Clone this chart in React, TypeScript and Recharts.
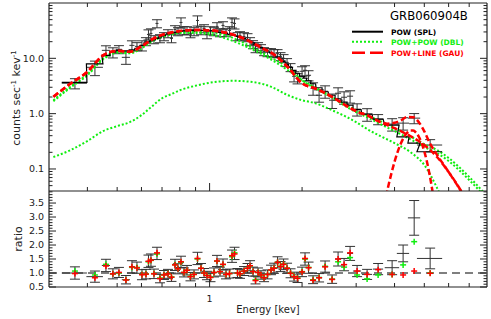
import React from 'react';
import { ComposedChart, Line, Scatter, ErrorBar, XAxis, YAxis, ReferenceLine } from 'recharts';

// spectral bins (keV) and their half widths
const binEnergy = [0.3644, 0.4233, 0.4598, 0.4844, 0.5068, 0.5341, 0.5587, 0.5801, 0.6023, 0.6206,
  0.6324, 0.6443, 0.659, 0.6741, 0.6893, 0.7104, 0.732, 0.7515, 0.7715, 0.7891,
  0.8069, 0.8253, 0.8441, 0.8665, 0.8897, 0.9133, 0.9376, 0.959, 0.9806, 1.0067,
  1.0335, 1.057, 1.0811, 1.1056, 1.1309, 1.161, 1.183, 1.2053, 1.2327, 1.256,
  1.2944, 1.3288, 1.354, 1.3848, 1.411, 1.4379, 1.4705, 1.504, 1.544, 1.5849,
  1.6211, 1.6642, 1.7019, 1.7407, 1.787, 1.8345, 1.8833, 1.9334, 1.9999, 2.0451,
  2.0997, 2.172, 2.272, 2.3768, 2.5048, 2.6199, 2.7404, 2.8664, 3.0208, 3.2563,
  3.5367, 3.9281, 4.2658, 4.6345, 5.224];
const binHalfWidth = [0.0343, 0.0262, 0.014, 0.011, 0.0115, 0.0163, 0.0106, 0.0088, 0.0091, 0.0094,
  0.0071, 0.0073, 0.0074, 0.0076, 0.0078, 0.008, 0.0083, 0.0085, 0.0087, 0.0089,
  0.0091, 0.0093, 0.0095, 0.0098, 0.0101, 0.0103, 0.0106, 0.0108, 0.0111, 0.0114,
  0.0117, 0.0119, 0.0122, 0.0125, 0.0128, 0.0131, 0.0134, 0.0136, 0.0139, 0.0142,
  0.0146, 0.015, 0.0153, 0.0156, 0.0159, 0.0162, 0.0166, 0.017, 0.0174, 0.0179,
  0.0183, 0.0188, 0.0192, 0.0197, 0.0202, 0.0277, 0.0284, 0.0292, 0.0378, 0.0309,
  0.0397, 0.0411, 0.0516, 0.054, 0.0569, 0.0595, 0.0622, 0.0651, 0.0921, 0.1244,
  0.1351, 0.2117, 0.1962, 0.2132, 0.4921];

// counts sec^-1 keV^-1
const counts = [3.544, 6.883, 13.94, 12.83, 14.53, 10.42, 17.15, 16.45, 17.15, 20.25,
  27.06, 28.21, 21.99, 42.72, 22.93, 24.91, 28.21, 22.93, 33.31, 30.66,
  44.53, 31.96, 31.96, 28.21, 30.66, 48.39, 31.96, 34.72, 27.06, 31.96,
  30.66, 37.73, 29.41, 39.32, 29.41, 31.96, 44.53, 42.72, 24.91, 25.97,
  24.91, 23.9, 20.25, 17.87, 15.14, 16.45, 15.14, 13.37, 12.83, 12.83,
  12.31, 12.31, 10.86, 10.0, 8.47, 6.88, 4.74, 4.36, 5.83, 6.08,
  4.94, 2.88, 2.15, 2.54, 1.75, 2.34, 1.98, 2.07, 1.205, 0.979,
  0.796, 0.647, 0.674, 0.83, 0.271];
const countsErr = [0.74, 2.02, 2.9, 2.67, 2.41, 2.63, 3.57, 2.73, 3.57, 3.36,
  5.63, 5.87, 3.65, 7.09, 3.81, 4.14, 4.68, 3.81, 5.53, 5.09,
  9.26, 5.31, 5.31, 4.68, 5.09, 10.07, 5.31, 5.76, 4.49, 5.31,
  5.09, 6.26, 4.88, 6.53, 4.88, 5.31, 9.26, 8.89, 4.14, 4.31,
  4.14, 3.97, 3.36, 2.97, 2.51, 2.73, 2.51, 2.22, 2.13, 2.13,
  2.04, 2.04, 1.8, 1.66, 1.41, 1.14, 0.99, 0.91, 1.21, 1.26,
  1.03, 0.73, 0.54, 0.64, 0.51, 0.59, 0.5, 0.52, 0.3, 0.25,
  0.166, 0.163, 0.17, 0.173, 0.068];

// POW (SPL) folded model per bin
const splModel = [3.69, 7.96, 11.33, 13.1, 13.94, 13.65, 14.23, 15.14, 17.15, 19.02,
  19.83, 20.67, 21.54, 22.93, 24.4, 25.97, 27.63, 28.8, 29.41, 30.03,
  30.66, 31.3, 31.3, 31.96, 31.96, 31.96, 31.96, 31.96, 31.3, 31.3,
  30.66, 30.03, 29.41, 28.8, 28.21, 27.06, 26.5, 25.97, 24.91, 23.89,
  22.93, 21.54, 20.25, 19.02, 17.87, 16.8, 15.79, 14.84, 13.65, 12.57,
  11.56, 10.64, 9.79, 8.83, 7.8, 6.88, 6.08, 5.37, 4.74, 4.36,
  3.93, 3.47, 2.94, 2.49, 2.15, 1.86, 1.61, 1.423, 1.18, 0.979,
  0.796, 0.62, 0.382, 0.294, 0.205];

// data / model ratios
const ratioSpl = [1.0, 0.87, 1.27, 0.97, 1.02, 0.76, 1.22, 1.19, 0.94, 0.96,
  1.42, 1.46, 0.97, 1.7, 0.8, 0.93, 0.97, 0.85, 1.29, 1.15,
  1.4, 1.02, 1.1, 0.87, 0.95, 1.52, 1.17, 1.0, 0.91, 0.84,
  1.02, 1.43, 1.05, 1.31, 0.95, 0.98, 1.6, 1.7, 1.0, 0.97,
  1.07, 1.17, 1.26, 1.05, 0.75, 1.02, 0.93, 0.83, 0.95, 1.11,
  1.17, 1.38, 1.23, 1.31, 1.17, 0.99, 0.87, 0.81, 1.04, 1.5,
  1.19, 0.76, 0.83, 1.23, 0.78, 1.5, 1.3, 1.7, 1.07, 0.95,
  1.14, 1.19, 1.7, 2.97, 1.52];
const ratioSplErr = [0.22, 0.2, 0.22, 0.18, 0.18, 0.15, 0.22, 0.2, 0.18, 0.17,
  0.22, 0.22, 0.17, 0.22, 0.15, 0.16, 0.16, 0.15, 0.2, 0.18,
  0.2, 0.16, 0.17, 0.15, 0.16, 0.22, 0.17, 0.16, 0.15, 0.15,
  0.16, 0.2, 0.16, 0.19, 0.16, 0.16, 0.22, 0.22, 0.16, 0.16,
  0.16, 0.17, 0.18, 0.16, 0.14, 0.16, 0.15, 0.14, 0.16, 0.17,
  0.18, 0.2, 0.18, 0.19, 0.18, 0.16, 0.16, 0.15, 0.17, 0.22,
  0.2, 0.14, 0.15, 0.2, 0.15, 0.25, 0.22, 0.25, 0.2, 0.18,
  0.2, 0.25, 0.3, 0.62, 0.37];
const ratioDbl = [1.07, 0.93, 1.31, 0.97, 1.0, 0.76, 1.2, 1.2, 0.95, 0.97,
  1.4, 1.45, 0.98, 1.68, 0.82, 0.94, 0.98, 0.86, 1.3, 1.15,
  1.38, 1.02, 1.1, 0.88, 0.95, 1.5, 1.17, 1.0, 0.92, 0.85,
  1.02, 1.42, 1.05, 1.3, 0.95, 0.98, 1.58, 1.72, 1.0, 0.97,
  1.07, 1.17, 1.25, 1.05, 0.76, 1.02, 0.93, 0.84, 0.95, 1.11,
  1.18, 1.38, 1.24, 1.32, 1.18, 1.0, 0.88, 0.82, 1.05, 1.5,
  1.2, 0.76, 0.84, 1.24, 0.78, 1.4, 1.21, 1.55, 0.93, 0.79,
  0.93, 0.95, 1.29, 2.12, 1.0];
const ratioGau = [0.98, 0.83, 1.25, 0.97, 1.02, 0.75, 1.22, 1.18, 0.94, 0.96,
  1.42, 1.46, 0.97, 1.72, 0.8, 0.93, 0.97, 0.85, 1.29, 1.15,
  1.4, 1.02, 1.1, 0.87, 0.95, 1.52, 1.17, 1.0, 0.91, 0.84,
  1.02, 1.43, 1.05, 1.31, 0.95, 0.98, 1.62, 1.68, 1.0, 0.97,
  1.07, 1.17, 1.26, 1.05, 0.73, 1.02, 0.93, 0.83, 0.95, 1.11,
  1.17, 1.38, 1.23, 1.31, 1.17, 0.99, 0.87, 0.81, 1.04, 1.52,
  1.19, 0.74, 0.83, 1.22, 0.77, 1.5, 1.3, 1.72, 1.07, 0.95,
  1.12, 0.95, 0.93, 1.07, 0.99];

// smooth model curves on an energy grid
const gridEnergy = [0.31, 0.35, 0.4, 0.45, 0.5, 0.55, 0.6, 0.65, 0.7, 0.75,
  0.8, 0.9, 1.0, 1.1, 1.2, 1.3, 1.4, 1.5, 1.6, 1.8,
  2.0, 2.2, 2.5, 2.8, 3.0, 3.3, 3.6, 4.0, 4.5, 5.0,
  5.5, 6.0, 7.0, 8.0];
const dblTotal = [1.75, 3.0, 5.15, 10.0, 13.1, 12.83, 15.79, 21.1, 25.43, 28.21,
  30.03, 30.66, 29.41, 27.06, 22.93, 18.63, 15.14, 12.31, 10.0, 6.88,
  4.01, 2.88, 1.98, 1.423, 1.157, 0.902, 0.733, 0.548, 0.393, 0.282,
  0.22, 0.158, 0.0718, 0.0326];
const dblSoft = [1.68, 2.88, 4.94, 9.59, 12.57, 12.31, 15.14, 20.25, 24.4, 27.06,
  28.8, 28.8, 27.06, 23.9, 20.25, 16.8, 13.94, 11.33, 9.2, 6.08,
  4.01, 3.0, 1.98, 1.31, 1.064, 0.83, 0.647, 0.484, 0.347, 0.249,
  0.194, 0.139, 0.0633, 0.0288];
const dblHard = [0.1645, 0.2154, 0.32, 0.484, 0.595, 0.703, 0.9395, 1.365, 1.9, 2.25,
  2.65, 3.195, 3.62, 3.85, 3.93, 3.85, 3.69, 3.4, 3.0, 2.15,
  1.75, 1.55, 1.157, 0.865, 0.703, 0.504, 0.393, 0.294, 0.2025, 0.118,
  0.0455, 0.0148, 0.003, 0.001];
const gauContinuum = [2.02, 3.4, 5.71, 11.33, 13.65, 13.1, 16.45, 21.99, 26.5, 29.41,
  31.3, 32.62, 31.96, 30.03, 26.5, 22.46, 18.25, 14.84, 12.31, 6.88,
  3.54, 2.88, 2.02, 1.365, 1.109, 0.902, 0.703, 0.548, 0.393, 0.271,
  0.1645, 0.0883, 0.0225, 0.0053];
const gauTotalEnergy = [0.31, 0.35, 0.4, 0.45, 0.5, 0.55, 0.6, 0.65, 0.7, 0.75,
  0.8, 0.9, 1.0, 1.1, 1.2, 1.3, 1.4, 1.5, 1.6, 1.8,
  2.0, 2.2, 2.5, 2.8, 3.0, 3.3, 3.6, 3.8, 4.0, 4.2,
  4.4, 4.6, 4.8, 5.0, 5.2, 5.5, 6.0, 7.0, 8.0];
const gauTotal = [2.02, 3.4, 5.71, 11.33, 13.65, 13.1, 16.45, 21.99, 26.5, 29.41,
  31.3, 32.62, 31.96, 30.03, 26.5, 22.46, 18.25, 14.84, 12.31, 6.88,
  3.54, 2.88, 2.02, 1.365, 1.109, 0.902, 0.703, 0.66, 0.683, 0.759,
  0.874, 0.865, 0.7, 0.479, 0.3, 0.18, 0.0883, 0.0225, 0.0053];
const lineEnergy = [3.7, 3.8, 3.9, 4.0, 4.1, 4.2, 4.3, 4.4, 4.5, 4.6, 4.7, 4.8, 4.9, 5.0, 5.1, 5.2, 5.3, 5.4];
const lineFlux = [0.022, 0.044, 0.08, 0.135, 0.208, 0.294, 0.382, 0.454, 0.495, 0.495, 0.454, 0.382, 0.294, 0.208, 0.135, 0.08, 0.044, 0.022];

// axis ticks
const energyTicks = [0.4, 0.5, 0.6, 0.7, 0.8, 0.9, 1, 2, 3, 4, 5, 6, 7];
const energyMajor = [1];
const countTicks = [0.05, 0.06, 0.07, 0.08, 0.09, 0.1, 0.2, 0.3, 0.4, 0.5, 0.6, 0.7, 0.8, 0.9,
  1, 2, 3, 4, 5, 6, 7, 8, 9, 10, 20, 30, 40, 50, 60, 70, 80, 90];
const countMajor = [0.1, 1, 10];
const ratioTicks = [0.5, 0.6, 0.7, 0.8, 0.9, 1.0, 1.1, 1.2, 1.3, 1.4, 1.5, 1.6, 1.7, 1.8, 1.9,
  2.0, 2.1, 2.2, 2.3, 2.4, 2.5, 2.6, 2.7, 2.8, 2.9, 3.0, 3.1, 3.2, 3.3, 3.4, 3.5, 3.6, 3.7, 3.8, 3.9];
const ratioMajor = [0.5, 1.0, 1.5, 2.0, 2.5, 3.0, 3.5];

const GREEN = '#11ee11';
const RED = '#ff0000';
const INK = '#222';
const FONT = 'DejaVu Sans';

const bins = binEnergy.map((e, i) => ({
  e,
  eErr: binHalfWidth[i],
  f: counts[i],
  fErr: countsErr[i],
  r: ratioSpl[i],
  rErr: ratioSplErr[i],
  rd: ratioDbl[i],
  rg: ratioGau[i],
}));
const splSteps = bins.flatMap((b, i) => [
  { e: b.e - b.eErr, v: splModel[i] },
  { e: b.e + b.eErr, v: splModel[i] },
]);
const onGrid = (vals: number[], energies = gridEnergy) => energies.map((e, i) => ({ e, v: vals[i] }));

const isMajor = (list: number[], v: number) => list.some((m) => Math.abs(m - v) < 1e-6);

function xTick(dir: 1 | -1, withLabel: boolean) {
  return (props: any) => {
    const { x, y, payload } = props;
    const major = isMajor(energyMajor, payload.value);
    return (
      <g>
        <line x1={x} y1={y} x2={x} y2={y + dir * (major ? 8 : 4)} stroke={INK} strokeWidth={1} />
        {withLabel && major ? (
          <text x={x} y={y + 15} textAnchor="middle" fontSize={9.5} fontFamily={FONT} fill={INK}>
            {String(payload.value)}
          </text>
        ) : null}
      </g>
    );
  };
}

function yTick(side: 'left' | 'right', majors: number[], withLabel: boolean) {
  return (props: any) => {
    const { x, y, payload } = props;
    const major = isMajor(majors, payload.value);
    const dir = side === 'left' ? 1 : -1;
    return (
      <g>
        <line x1={x} y1={y} x2={x + dir * (major ? 7 : 3.5)} y2={y} stroke={INK} strokeWidth={1} />
        {withLabel && major ? (
          <text x={x - 5} y={y} dy="0.35em" textAnchor="end" fontSize={9.5} fontFamily={FONT} fill={INK}>
            {Number(payload.value).toFixed(1)}
          </text>
        ) : null}
      </g>
    );
  };
}

const noMark = () => <g />;
const plus = (color: string) => (props: any) => {
  const { cx, cy } = props;
  if (cx == null || cy == null) return <g />;
  return (
    <g>
      <line x1={cx - 3} y1={cy} x2={cx + 3} y2={cy} stroke={color} strokeWidth={1.5} />
      <line x1={cx} y1={cy - 3} x2={cx} y2={cy + 3} stroke={color} strokeWidth={1.5} />
    </g>
  );
};

const axisLine = { stroke: INK, strokeWidth: 1.2 };

function SpectrumPanel() {
  return (
    <ComposedChart width={491} height={193} margin={{ top: 0, right: 0, bottom: 0, left: 0 }}>
      <XAxis xAxisId="b" dataKey="e" type="number" scale="log" domain={[0.3, 8]} allowDataOverflow
        ticks={energyTicks} interval={0} height={2} tickSize={0} tickMargin={0}
        axisLine={axisLine} tickLine={false} tick={xTick(-1, false)} />
      <XAxis xAxisId="t" orientation="top" dataKey="e" type="number" scale="log" domain={[0.3, 8]} allowDataOverflow
        ticks={energyTicks} interval={0} height={3} tickSize={0} tickMargin={0}
        axisLine={axisLine} tickLine={false} tick={xTick(1, false)} />
      <YAxis yAxisId="l" type="number" scale="log" domain={[0.04, 100]} allowDataOverflow
        ticks={countTicks} interval={0} width={49} tickSize={0} tickMargin={0}
        axisLine={axisLine} tickLine={false} tick={yTick('left', countMajor, true)} />
      <YAxis yAxisId="r" orientation="right" type="number" scale="log" domain={[0.04, 100]} allowDataOverflow
        ticks={countTicks} interval={0} width={4} tickSize={0} tickMargin={0}
        axisLine={axisLine} tickLine={false} tick={yTick('right', countMajor, false)} />

      <Scatter xAxisId="b" yAxisId="l" data={bins} dataKey="f" shape={noMark} isAnimationActive={false}>
        <ErrorBar dataKey="fErr" direction="y" width={5} stroke="#333" strokeWidth={1} isAnimationActive={false} />
        <ErrorBar dataKey="eErr" direction="x" width={0} stroke="#333" strokeWidth={1} isAnimationActive={false} />
      </Scatter>

      <Line xAxisId="b" yAxisId="l" data={onGrid(dblHard)} dataKey="v" type="monotone" stroke={GREEN}
        strokeWidth={2} strokeDasharray="2 2" dot={false} activeDot={false} isAnimationActive={false} />
      <Line xAxisId="b" yAxisId="l" data={onGrid(dblSoft)} dataKey="v" type="monotone" stroke={GREEN}
        strokeWidth={2} strokeDasharray="2 2" dot={false} activeDot={false} isAnimationActive={false} />
      <Line xAxisId="b" yAxisId="l" data={onGrid(dblTotal)} dataKey="v" type="monotone" stroke={GREEN}
        strokeWidth={2} strokeDasharray="2 2" dot={false} activeDot={false} isAnimationActive={false} />

      <Line xAxisId="b" yAxisId="l" data={splSteps} dataKey="v" type="linear" stroke="#000"
        strokeWidth={1.2} dot={false} activeDot={false} isAnimationActive={false} />

      <Line xAxisId="b" yAxisId="l" data={onGrid(gauContinuum)} dataKey="v" type="monotone" stroke={RED}
        strokeWidth={2.5} strokeDasharray="6 3" dot={false} activeDot={false} isAnimationActive={false} />
      <Line xAxisId="b" yAxisId="l" data={onGrid(lineFlux, lineEnergy)} dataKey="v" type="monotone" stroke={RED}
        strokeWidth={2.5} strokeDasharray="6 3" dot={false} activeDot={false} isAnimationActive={false} />
      <Line xAxisId="b" yAxisId="l" data={onGrid(gauTotal, gauTotalEnergy)} dataKey="v" type="monotone" stroke={RED}
        strokeWidth={2.5} strokeDasharray="6 3" dot={false} activeDot={false} isAnimationActive={false} />
    </ComposedChart>
  );
}

function RatioPanel() {
  return (
    <ComposedChart width={491} height={128} margin={{ top: 0, right: 0, bottom: 0, left: 0 }}>
      <XAxis xAxisId="b" dataKey="e" type="number" scale="log" domain={[0.3, 8]} allowDataOverflow
        ticks={energyTicks} interval={0} height={32} tickSize={0} tickMargin={0}
        axisLine={axisLine} tickLine={false} tick={xTick(-1, true)} />
      <YAxis yAxisId="l" type="number" domain={[0.5, 3.93]} allowDataOverflow
        ticks={ratioTicks} interval={0} width={49} tickSize={0} tickMargin={0}
        axisLine={axisLine} tickLine={false} tick={yTick('left', ratioMajor, true)} />
      <YAxis yAxisId="r" orientation="right" type="number" domain={[0.5, 3.93]} allowDataOverflow
        ticks={ratioTicks} interval={0} width={4} tickSize={0} tickMargin={0}
        axisLine={axisLine} tickLine={false} tick={yTick('right', ratioMajor, false)} />

      <ReferenceLine xAxisId="b" yAxisId="l" y={1} stroke="#000" strokeWidth={1.2} strokeDasharray="8 5" />

      <Scatter xAxisId="b" yAxisId="l" data={bins} dataKey="r" shape={noMark} isAnimationActive={false}>
        <ErrorBar dataKey="rErr" direction="y" width={5} stroke="#333" strokeWidth={1} isAnimationActive={false} />
        <ErrorBar dataKey="eErr" direction="x" width={0} stroke="#333" strokeWidth={1} isAnimationActive={false} />
      </Scatter>
      <Scatter xAxisId="b" yAxisId="l" data={bins} dataKey="rd" shape={plus(GREEN)} isAnimationActive={false} />
      <Scatter xAxisId="b" yAxisId="l" data={bins} dataKey="rg" shape={plus(RED)} isAnimationActive={false} />
    </ComposedChart>
  );
}

function Annotations() {
  return (
    <svg width={491} height={319} style={{ position: 'absolute', left: 0, top: 0, pointerEvents: 'none' }}>
      <text x={390} y={20} fontSize={11.7} fontFamily={FONT} fill="#000">GRB060904B</text>

      <line x1={352} y1={31.7} x2={383} y2={31.7} stroke="#000" strokeWidth={2} />
      <text x={391} y={34.5} fontSize={7.5} fontWeight="bold" fontFamily={FONT} fill="#000">POW (SPL)</text>
      <line x1={352} y1={41.7} x2={383} y2={41.7} stroke={GREEN} strokeWidth={2} strokeDasharray="2 2" />
      <text x={391} y={44.5} fontSize={7.5} fontWeight="bold" fontFamily={FONT} fill={GREEN}>POW+POW (DBL)</text>
      <line x1={352} y1={52.7} x2={383} y2={52.7} stroke={RED} strokeWidth={2.5} strokeDasharray="13 5" />
      <text x={391} y={55.5} fontSize={7.5} fontWeight="bold" fontFamily={FONT} fill={RED}>POW+LINE (GAU)</text>

      <text transform="translate(20,98) rotate(-90)" textAnchor="middle" fontSize={11} fontFamily={FONT} fill={INK}>
        counts sec<tspan dy={-4} fontSize={7}>-1</tspan>
        <tspan dy={4}> kev</tspan>
        <tspan dy={-4} fontSize={7}>-1</tspan>
      </text>
      <text transform="translate(22,239) rotate(-90)" textAnchor="middle" fontSize={11} fontFamily={FONT} fill={INK}>
        ratio
      </text>
      <text x={268} y={313} textAnchor="middle" fontSize={10} fontFamily={FONT} fill={INK}>
        Energy [kev]
      </text>
    </svg>
  );
}

export default function App() {
  return (
    <div style={{ position: 'absolute', left: 0, top: 0, width: 491, height: 319, background: '#fff' }}>
      <div style={{ position: 'absolute', left: 0, top: 0 }}>
        <SpectrumPanel />
      </div>
      <div style={{ position: 'absolute', left: 0, top: 191 }}>
        <RatioPanel />
      </div>
      <Annotations />
    </div>
  );
}
